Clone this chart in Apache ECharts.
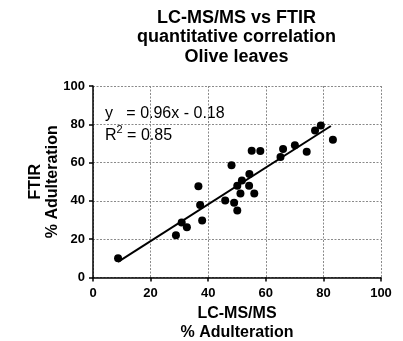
<!DOCTYPE html>
<html>
<head>
<meta charset="utf-8">
<style>
  html, body { margin: 0; padding: 0; background: #fff; }
  #chart { width: 403px; height: 341px; }
</style>
<script src="https://cdn.jsdelivr.net/npm/echarts@6/dist/echarts.min.js"></script>
</head>
<body>
<div id="chart"></div>
<script>
// LC-MS/MS measured adulteration (%) for each olive leaf sample
const lcmsValues = [8.7, 28.8, 30.8, 32.6, 36.6, 37.2, 37.9, 45.9, 48.1, 49.0, 50.1, 50.1, 51.2,
  51.7, 54.2, 54.3, 55.1, 56.0, 58.1, 65.1, 66.0, 70.1, 74.2, 77.1, 79.1, 83.3];
// FTIR predicted adulteration (%) for the same samples
const ftirValues = [10.1, 22.1, 28.7, 26.3, 47.7, 37.8, 29.7, 40.2, 58.6, 39.0, 47.9, 35.0, 43.9,
  50.7, 47.9, 54.0, 66.2, 43.9, 66.0, 62.9, 67.1, 69.0, 65.7, 76.8, 79.4, 71.9];
// Axis tick values (both axes)
const tickValues = [0, 20, 40, 60, 80, 100];

// Linear fit reported on the chart
const SLOPE = 0.96;
const INTERCEPT = -0.18;
const R_SQUARED = 0.85;
const fitRange = [8.7, 82.6];

const FONT = 'Liberation Sans, Arial, Helvetica, sans-serif';

const points = lcmsValues.map((x, i) => [x, ftirValues[i]]);
const fitLine = fitRange.map(x => [x, SLOPE * x + INTERCEPT]);

const fmt = v => Math.abs(v).toFixed(2);
const eqText = 'y   = ' + SLOPE.toFixed(2) + 'x ' + (INTERCEPT < 0 ? '- ' : '+ ') + fmt(INTERCEPT);

const axisCommon = {
  type: 'value',
  min: tickValues[0],
  max: tickValues[tickValues.length - 1],
  interval: tickValues[1] - tickValues[0],
  nameLocation: 'middle',
  axisLine: { show: true, onZero: false, lineStyle: { color: '#000', width: 1.5 } },
  axisTick: { show: true, inside: false, length: 4, lineStyle: { color: '#000', width: 1.5 } },
  axisLabel: { fontFamily: FONT, fontWeight: 'bold', fontSize: 13, color: '#000' },
  splitLine: { show: true, lineStyle: { color: '#8a8a8a', width: 1, type: [2, 1.5] } }
};
const nameStyle = { fontFamily: FONT, fontWeight: 'bold', fontSize: 16, color: '#000' };

const chart = echarts.init(document.getElementById('chart'), null, { renderer: 'canvas' });
chart.setOption({
  animation: false,
  backgroundColor: '#fff',
  title: {
    text: 'LC-MS/MS vs FTIR\nquantitative correlation\nOlive leaves',
    left: 236.5,
    top: 8,
    padding: 0,
    textAlign: 'center',
    textStyle: { fontFamily: FONT, fontWeight: 'bold', fontSize: 18, color: '#000', lineHeight: 19.5 }
  },
  grid: { left: 93, right: 22, top: 86, bottom: 63.5, containLabel: false, outerBoundsMode: 'none' },
  xAxis: Object.assign({}, axisCommon, {
    name: 'LC-MS/MS\n% Adulteration',
    nameGap: 26,
    nameTextStyle: Object.assign({}, nameStyle, { lineHeight: 19 }),
    axisLabel: Object.assign({}, axisCommon.axisLabel, { margin: 9 })
  }),
  yAxis: Object.assign({}, axisCommon, {
    name: 'FTIR\n% Adulteration',
    nameGap: 32,
    nameRotate: 90,
    nameMoveOverlap: false,
    nameTextStyle: Object.assign({}, nameStyle, { lineHeight: 17 }),
    axisLabel: Object.assign({}, axisCommon.axisLabel, { margin: 8 })
  }),
  graphic: [
    {
      type: 'text',
      left: 105,
      top: 106,
      style: { text: eqText, fontFamily: FONT, fontSize: 16, fill: '#000' }
    },
    {
      type: 'text',
      left: 105,
      top: 124,
      style: {
        text: '{n|R}{s|2}{n| = ' + R_SQUARED.toFixed(2) + '}',
        rich: {
          n: { fontFamily: FONT, fontSize: 16, fill: '#000', color: '#000', lineHeight: 20, verticalAlign: 'bottom' },
          s: { fontFamily: FONT, fontSize: 11, fill: '#000', color: '#000', lineHeight: 20, verticalAlign: 'top' }
        }
      }
    }
  ],
  series: [
    {
      type: 'line',
      data: fitLine,
      symbol: 'none',
      lineStyle: { color: '#000', width: 2 },
      z: 2
    },
    {
      type: 'scatter',
      data: points,
      symbol: 'circle',
      symbolSize: 8,
      itemStyle: { color: '#000', opacity: 1 },
      z: 3
    }
  ]
});
</script>
</body>
</html>
